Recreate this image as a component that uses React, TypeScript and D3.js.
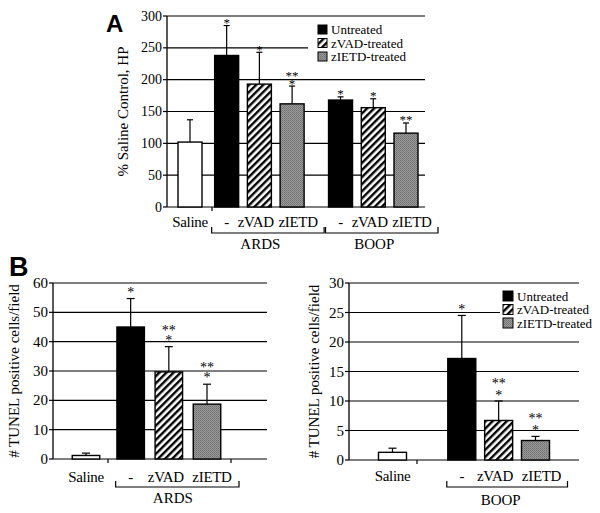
import React from "react";
import * as d3 from "d3";

// ---------- DATA ----------
const kinds = ["saline", "untreated", "zvad", "zietd"];
const legendItems = ["Untreated", "zVAD-treated", "zIETD-treated"];

const aLabels = ["Saline", "-", "zVAD", "zIETD", "-", "zVAD", "zIETD"];
const aKinds = ["saline", "untreated", "zvad", "zietd", "untreated", "zvad", "zietd"];
const aGroups = [0, 1, 1, 1, 2, 2, 2];
const aGroupNames = ["", "ARDS", "BOOP"];
const aValues = [102, 238, 193, 162, 168, 156, 116];
const aErrTops = [137, 285, 243, 190, 173, 170, 132];
const aStars = [[], ["*"], ["*"], ["**", "*"], ["*"], ["*"], ["**"]];
const aTicks = [0, 50, 100, 150, 200, 250, 300];
const aYLabel = "% Saline Control, HP";

const bLabels = ["Saline", "-", "zVAD", "zIETD"];
const bKinds = ["saline", "untreated", "zvad", "zietd"];
const bGroups = [0, 1, 1, 1];
const bYLabel = "# TUNEL positive cells/field";

const blGroupNames = ["", "ARDS"];
const blValues = [1.2, 45, 29.7, 18.7];
const blErrTops = [2, 54.7, 38.3, 25.5];
const blStars = [[], ["*"], ["**", "*"], ["**", "*"]];
const blTicks = [0, 10, 20, 30, 40, 50, 60];

const brGroupNames = ["", "BOOP"];
const brValues = [1.3, 17.2, 6.7, 3.3];
const brErrTops = [2, 24.5, 10, 4];
const brStars = [[], ["*"], ["**", "*"], ["**", "*"]];
const brTicks = [0, 5, 10, 15, 20, 25, 30];

const SERIF = "'Liberation Serif', 'Times New Roman', serif";
const SANS = "'Liberation Sans', Arial, sans-serif";

const fillFor = (k: string) =>
  k === "saline" ? "#fff" : k === "untreated" ? "#000" : k === "zvad" ? "url(#stripes)" : "url(#dots)";

// small horizontal nudges of the category labels (layout only)
const labelNudge = (k: string, amt: number) => (k === "zvad" ? -amt * 0.6 : k === "zietd" ? amt : 0);

type PanelProps = {
  labels: string[];
  kinds: string[];
  groups: number[];
  groupGap: number[];
  groupNames: string[];
  values: number[];
  errTops: number[];
  stars: string[][];
  ticks: number[];
  yLabel: string;
  axisX: number;
  plotRight: number;
  yTopPx: number;
  yBottomPx: number;
  firstCenter: number;
  lastCenter: number;
  barWidth: number;
  capHalf: number;
  tickFont: number;
  labelFont: number;
  yLabelX: number;
  xLabelY: number;
  bracketY: number;
  groupLabelY: number;
  starOff: number;
  starGap: number;
  starFont: number;
  xTicks: number[];
  groupLabelDx: number;
  nudge: number;
};

function Panel(p: PanelProps) {
  const yMax = d3.max(p.ticks) as number;
  const y = d3.scaleLinear().domain([0, yMax]).range([p.yBottomPx, p.yTopPx]);
  const slots = p.values.map((_, i) => i + p.groupGap[p.groups[i]]);
  const x = d3
    .scaleLinear()
    .domain([slots[0], slots[slots.length - 1]])
    .range([p.firstCenter, p.lastCenter]);
  const groupIds = Array.from(new Set(p.groups)).filter((g) => p.groupNames[g]);
  return (
    <g>
      {p.ticks.map((t) => (
        <line key={"g" + t} x1={p.axisX} x2={p.plotRight} y1={y(t)} y2={y(t)} stroke="#000" strokeWidth={1.2} />
      ))}
      <line x1={p.axisX} x2={p.axisX} y1={y(yMax)} y2={y(0)} stroke="#000" strokeWidth={1.3} />
      {p.ticks.map((t) => (
        <g key={"t" + t}>
          <line x1={p.axisX - 4} x2={p.axisX} y1={y(t)} y2={y(t)} stroke="#000" strokeWidth={1.2} />
          <text
            x={p.axisX - 5}
            y={y(t)}
            textAnchor="end"
            dominantBaseline="central"
            fontFamily={SERIF}
            fontSize={p.tickFont}
          >
            {t}
          </text>
        </g>
      ))}
      {p.xTicks.map((tx, i) => (
        <line key={"xt" + i} x1={tx} x2={tx} y1={y(0)} y2={y(0) + 4} stroke="#000" strokeWidth={1.2} />
      ))}
      {p.values.map((v, i) => {
        const cx = x(slots[i]);
        const et = y(p.errTops[i]);
        return (
          <g key={"b" + i}>
            <line x1={cx} x2={cx} y1={y(v)} y2={et} stroke="#000" strokeWidth={1.2} />
            <line x1={cx - p.capHalf} x2={cx + p.capHalf} y1={et} y2={et} stroke="#000" strokeWidth={1.2} />
            <rect
              x={cx - p.barWidth / 2}
              y={y(v)}
              width={p.barWidth}
              height={y(0) - y(v)}
              fill={fillFor(p.kinds[i])}
              stroke="#000"
              strokeWidth={1.4}
            />
            {p.stars[i].map((s, j) => {
              const n = p.stars[i].length;
              const cy = et - p.starOff - (n - 1 - j) * p.starGap;
              return (
                <text
                  key={"s" + j}
                  x={cx}
                  y={cy + p.starFont * 0.5}
                  textAnchor="middle"
                  fontFamily={SERIF}
                  fontSize={p.starFont}
                  fill="#000"
                >
                  {s}
                </text>
              );
            })}
            <text
              x={cx + labelNudge(p.kinds[i], p.nudge)}
              y={p.xLabelY}
              textAnchor="middle"
              fontFamily={SERIF}
              fontSize={p.labelFont}
              letterSpacing={-0.3}
            >
              {p.labels[i]}
            </text>
          </g>
        );
      })}
      {groupIds.map((g) => {
        const idx = p.groups.map((gg, i) => (gg === g ? i : -1)).filter((i) => i >= 0);
        const x0 = x(slots[idx[0]]);
        const x1 = x(slots[idx[idx.length - 1]]);
        const left = x0 - 15;
        const right = x1 + 32;
        return (
          <g key={"br" + g}>
            <path
              d={`M${left},${p.bracketY - 6}V${p.bracketY}H${right}V${p.bracketY - 6}`}
              fill="none"
              stroke="#000"
              strokeWidth={1.2}
            />
            <text
              x={(x0 + x1) / 2 + p.groupLabelDx}
              y={p.groupLabelY}
              textAnchor="middle"
              fontFamily={SERIF}
              fontSize={p.labelFont}
            >
              {p.groupNames[g]}
            </text>
          </g>
        );
      })}
      <text
        transform={`translate(${p.yLabelX},${(y(yMax) + y(0)) / 2}) rotate(-90)`}
        textAnchor="middle"
        dominantBaseline="central"
        fontFamily={SERIF}
        fontSize={15}
      >
        {p.yLabel}
      </text>
    </g>
  );
}

function Legend({ x, y, size, gap, font, bg }: { x: number; y: number; size: number; gap: number; font: number; bg: number[] }) {
  return (
    <g>
      <rect x={bg[0]} y={bg[1]} width={bg[2]} height={bg[3]} fill="#fff" />
      {legendItems.map((name, i) => (
        <g key={name}>
          <rect
            x={x}
            y={y + i * gap}
            width={size}
            height={size}
            fill={fillFor(kinds[i + 1])}
            stroke="#000"
            strokeWidth={1}
          />
          <text
            x={x + size + 4}
            y={y + i * gap + size / 2}
            dominantBaseline="central"
            fontFamily={SERIF}
            fontSize={font}
          >
            {name}
          </text>
        </g>
      ))}
    </g>
  );
}

export default function App() {
  return (
    <svg
      width={600}
      height={513}
      style={{ position: "absolute", left: 0, top: 0, background: "#fff" }}
    >
      <defs>
        <pattern id="stripes" patternUnits="userSpaceOnUse" width={5} height={5} patternTransform="rotate(45)">
          <rect width={5} height={5} fill="#fff" />
          <rect width={2.4} height={5} fill="#000" />
        </pattern>
        <pattern id="dots" patternUnits="userSpaceOnUse" width={2} height={2}>
          <rect width={2} height={2} fill="#9a9a9a" />
          <rect width={1} height={1} fill="#6e6e6e" />
          <rect x={1} y={1} width={1} height={1} fill="#7e7e7e" />
        </pattern>
      </defs>
      <rect width={600} height={513} fill="#fff" />

      <Panel
        labels={aLabels}
        kinds={aKinds}
        groups={aGroups}
        groupGap={[0, 0.12, 0.6]}
        groupNames={aGroupNames}
        values={aValues}
        errTops={aErrTops}
        stars={aStars}
        ticks={aTicks}
        yLabel={aYLabel}
        axisX={167}
        plotRight={425}
        yTopPx={16}
        yBottomPx={207}
        firstCenter={190}
        lastCenter={406}
        barWidth={24}
        capHalf={3}
        tickFont={14}
        labelFont={15}
        yLabelX={123}
        xLabelY={227}
        bracketY={233}
        groupLabelY={249}
        starOff={5}
        starGap={8}
        starFont={13}
        xTicks={[212]}
        groupLabelDx={1}
        nudge={6}
      />
      <Legend x={318} y={25} size={9} gap={13.5} font={13} bg={[308, 20, 117, 45]} />
      <text x={106} y={32} fontFamily={SANS} fontWeight="bold" fontSize={24}>
        A
      </text>

      <Panel
        labels={bLabels}
        kinds={bKinds}
        groups={bGroups}
        groupGap={[0, 0.17]}
        groupNames={blGroupNames}
        values={blValues}
        errTops={blErrTops}
        stars={blStars}
        ticks={blTicks}
        yLabel={bYLabel}
        axisX={53}
        plotRight={267}
        yTopPx={283}
        yBottomPx={459}
        firstCenter={86}
        lastCenter={207}
        barWidth={27.5}
        capHalf={4}
        tickFont={15}
        labelFont={15}
        yLabelX={14}
        xLabelY={482}
        bracketY={487}
        groupLabelY={503}
        starOff={9}
        starGap={10}
        starFont={14}
        xTicks={[108, 231]}
        groupLabelDx={4}
        nudge={5}
      />
      <text x={9} y={276} fontFamily={SANS} fontWeight="bold" fontSize={27}>
        B
      </text>

      <Panel
        labels={bLabels}
        kinds={bKinds}
        groups={bGroups}
        groupGap={[0, 0.88]}
        groupNames={brGroupNames}
        values={brValues}
        errTops={brErrTops}
        stars={brStars}
        ticks={brTicks}
        yLabel={bYLabel}
        axisX={349}
        plotRight={579}
        yTopPx={283}
        yBottomPx={460}
        firstCenter={392.5}
        lastCenter={535.5}
        barWidth={28}
        capHalf={4}
        tickFont={15}
        labelFont={15}
        yLabelX={314}
        xLabelY={481}
        bracketY={487}
        groupLabelY={505}
        starOff={8}
        starGap={12}
        starFont={14}
        xTicks={[417]}
        groupLabelDx={2}
        nudge={6}
      />
      <Legend x={503} y={291} size={10} gap={13.5} font={13} bg={[500, 286, 80, 45]} />
    </svg>
  );
}
